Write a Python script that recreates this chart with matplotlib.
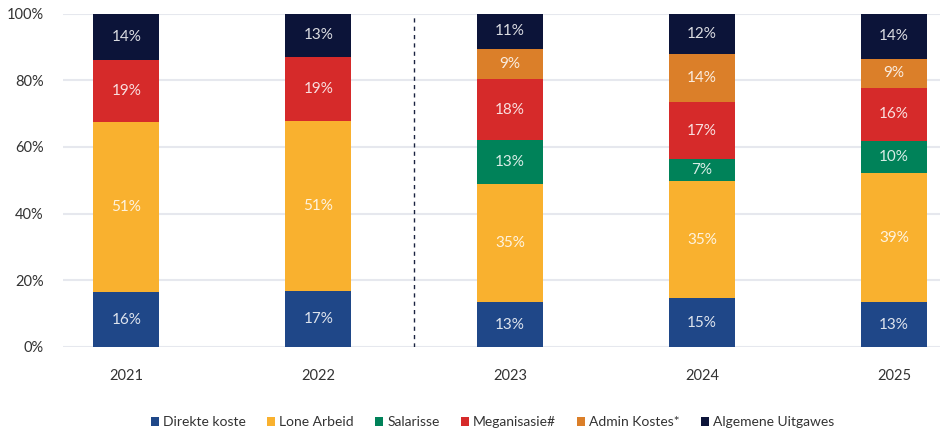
import matplotlib.pyplot as plt
import numpy as np

plt.rcParams['font.family'] = ['Lato', 'DejaVu Sans']

years = ['2021', '2022', '2023', '2024', '2025']
series = ['Direkte koste', 'Lone Arbeid', 'Salarisse', 'Meganisasie#', 'Admin Kostes*', 'Algemene Uitgawes']
direkte = [16.4, 16.7, 13.4, 14.6, 13.4]
lone = [51.0, 51.0, 35.4, 35.1, 38.7]
salarisse = [0, 0, 13.3, 6.6, 9.7]
meganisasie = [18.6, 19.2, 18.2, 17.1, 16.0]
admin = [0, 0, 9.0, 14.4, 8.6]
algemene = [14.0, 13.1, 10.7, 12.2, 13.6]
colors = ['#1f4788', '#f9b12f', '#008259', '#d62a2a', '#db7f29', '#0c1439']

data = [direkte, lone, salarisse, meganisasie, admin, algemene]

fig = plt.figure(figsize=(9.41, 4.29), dpi=100)
ax = fig.add_axes([63 / 941, 82 / 429, 877 / 941, 333.5 / 429])

x = np.arange(len(years))
bottom = np.zeros(len(years))
for name, vals, c in zip(series, data, colors):
    vals = np.array(vals)
    ax.bar(x, vals, bottom=bottom, width=0.345, color=c, label=name, zorder=3)
    for xi, b, v in zip(x, bottom, vals):
        if v > 0:
            ax.text(xi, b + v / 2, f'{v:.0f}%', ha='center', va='center',
                    color='white', alpha=0.85, fontsize=11, zorder=4)
    bottom += vals

ax.axvline(1.5, color='#1a2340', linestyle=(0, (3, 3)), linewidth=1, zorder=2)

ax.set_ylim(0, 100)
ax.set_xlim(-0.33, 4.24)
ax.set_yticks([0, 20, 40, 60, 80, 100])
ax.set_yticklabels([f'{t}%' for t in [0, 20, 40, 60, 80, 100]])
ax.set_xticks(x)
ax.set_xticklabels(years)
ax.tick_params(axis='both', length=0, labelsize=10.5, colors='#333333')
ax.tick_params(axis='x', pad=16)
ax.tick_params(axis='y', pad=14)
ax.grid(axis='y', color='#e6e8ee', linewidth=1.5, zorder=0)
for s in ax.spines.values():
    s.set_visible(False)

ax.legend(loc='upper center', bbox_to_anchor=(0.49, -0.17), ncol=6, frameon=False,
          fontsize=10, handlelength=0.6, handleheight=0.6, handletextpad=0.3,
          columnspacing=1.5, labelcolor='#333333')

fig.savefig('out.png', dpi=100)
